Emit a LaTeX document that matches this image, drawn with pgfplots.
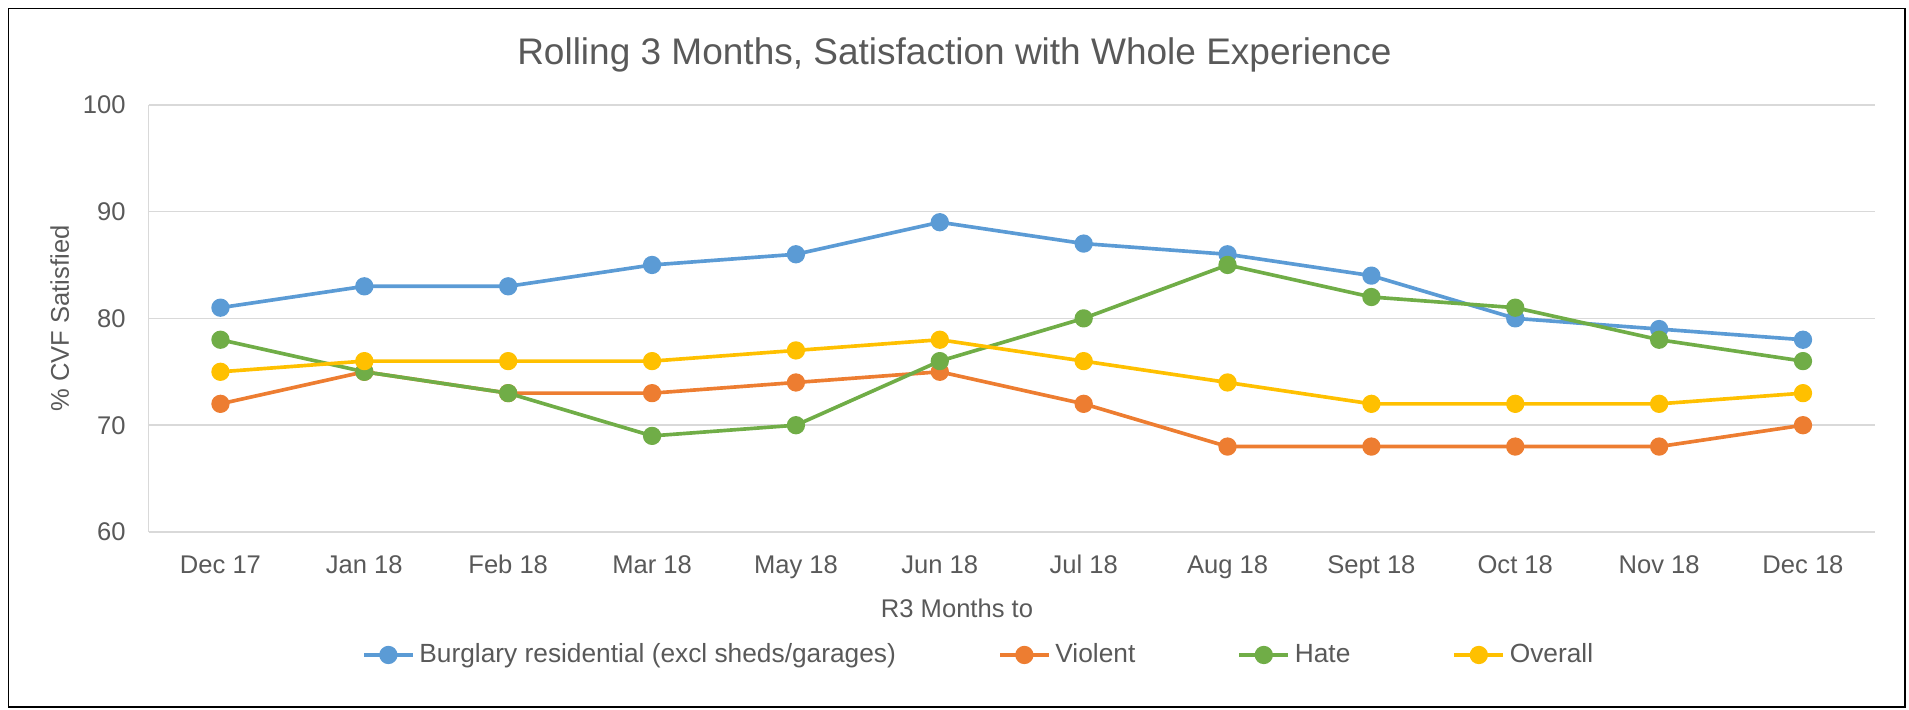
\documentclass[border=0pt]{standalone}
\usepackage{fontspec}
\setmainfont{Liberation Sans}
\usepackage{pgfplots}
\pgfplotsset{compat=1.18}

\definecolor{cblue}{HTML}{5B9BD5}
\definecolor{corange}{HTML}{ED7D31}
\definecolor{cgreen}{HTML}{70AD47}
\definecolor{cgold}{HTML}{FFC000}
\definecolor{txtgray}{HTML}{595959}
\definecolor{gridgray}{HTML}{D9D9D9}

\begin{document}
\begin{tikzpicture}
\useasboundingbox (-61pt,-73pt) rectangle (723pt,218.5pt);
\draw[black, line width=0.8pt] (-57.5pt,-72pt) rectangle (721.5pt,215pt);
\begin{axis}[
    at={(0,0)}, anchor=south west,
    scale only axis,
    width=709pt, height=175.5pt,
    xmin=-0.5, xmax=11.5,
    ymin=60, ymax=100,
    ytick={60,70,80,90,100},
    xtick={0,...,11},
    xticklabels={Dec 17,Jan 18,Feb 18,Mar 18,May 18,Jun 18,Jul 18,Aug 18,Sept 18,Oct 18,Nov 18,Dec 18},
    axis lines*=left,
    axis line style={draw=gridgray, line width=0.7pt, -},
    ymajorgrids,
    grid style={draw=gridgray, line width=0.7pt},
    major tick length=0pt,
    tick label style={font=\fontsize{10.5}{12}\selectfont, text=txtgray},
    /pgf/number format/assume math mode=true,
    xticklabel style={anchor=base, inner sep=0pt, yshift=-17.2pt},
    yticklabel style={anchor=east, inner sep=0pt, xshift=-9.25pt},
    title={Rolling 3 Months, Satisfaction with Whole Experience},
    title style={font=\fontsize{15.2}{18}\selectfont, text=txtgray, anchor=base, inner sep=0pt,
                 at={(rel axis cs:0.4668,1.06)}},
    xlabel={R3 Months to},
    xlabel style={font=\fontsize{10.5}{12}\selectfont, text=txtgray, anchor=base, inner sep=0pt,
                  at={(rel axis cs:0.4683,-0.2011)}},
    ylabel={\% CVF Satisfied},
    ylabel style={font=\fontsize{10.5}{12}\selectfont, text=txtgray, anchor=base, inner sep=0pt,
                  at={(rel axis cs:-0.0461,0.5)}},
    legend columns=4,
    legend style={draw=none, fill=none, font=\fontsize{10.8}{12}\selectfont, text=txtgray,
                  at={(rel axis cs:0.4817,-0.2877)}, anchor=center,
                  /tikz/every even column/.append style={column sep=40pt}},
    legend image code/.code={
        \draw[mark repeat=2, mark phase=2] plot coordinates {(0pt,0pt) (10pt,0pt) (20pt,0pt)};
    },
    every axis plot/.append style={line width=1.5pt, mark=*, mark size=3pt, line join=round},
    clip=false,
]
\addplot[cblue, mark options={fill=cblue, draw=cblue}] coordinates {
    (0,81) (1,83) (2,83) (3,85) (4,86) (5,89) (6,87) (7,86) (8,84) (9,80) (10,79) (11,78)
};
\addlegendentry{Burglary residential (excl sheds/garages)}
\addplot[corange, mark options={fill=corange, draw=corange}] coordinates {
    (0,72) (1,75) (2,73) (3,73) (4,74) (5,75) (6,72) (7,68) (8,68) (9,68) (10,68) (11,70)
};
\addlegendentry{Violent}
\addplot[cgreen, mark options={fill=cgreen, draw=cgreen}] coordinates {
    (0,78) (1,75) (2,73) (3,69) (4,70) (5,76) (6,80) (7,85) (8,82) (9,81) (10,78) (11,76)
};
\addlegendentry{Hate}
\addplot[cgold, mark options={fill=cgold, draw=cgold}] coordinates {
    (0,75) (1,76) (2,76) (3,76) (4,77) (5,78) (6,76) (7,74) (8,72) (9,72) (10,72) (11,73)
};
\addlegendentry{Overall}
\end{axis}
\end{tikzpicture}
\end{document}
